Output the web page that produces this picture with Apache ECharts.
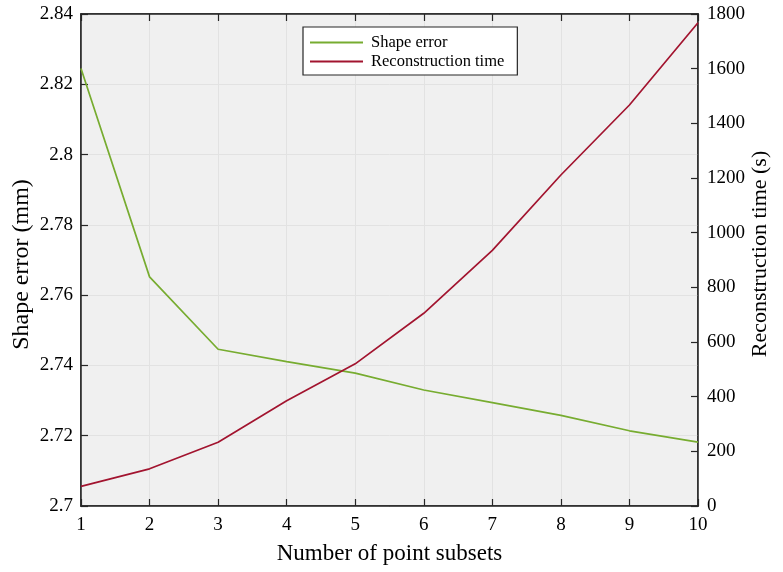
<!DOCTYPE html>
<html>
<head>
<meta charset="utf-8">
<script src="https://cdn.jsdelivr.net/npm/echarts@6/dist/echarts.min.js"></script>
<style>
html,body{margin:0;padding:0;background:#fff;}
#chart{width:783px;height:572px;}
</style>
</head>
<body>
<div id="chart"></div>
<script>
const subsets = [1, 2, 3, 4, 5, 6, 7, 8, 9, 10];
const shapeError = [2.8245, 2.7652, 2.7446, 2.7411, 2.7378, 2.7330, 2.7294, 2.7258, 2.7214, 2.7182];
const reconTime = [72, 136, 233, 385, 520, 705, 935, 1211, 1467, 1768];
const seriesNames = ['Shape error', 'Reconstruction time'];
const xTitle = 'Number of point subsets';
const yLeftTitle = 'Shape error (mm)';
const yRightTitle = 'Reconstruction time (s)';

const FONT = '"Liberation Serif", "Times New Roman", serif';
const AXIS_COLOR = '#262626';

const chart = echarts.init(document.getElementById('chart'));
const pairs = (ys) => subsets.map((x, i) => [x, ys[i]]);

chart.setOption({
  animation: false,
  backgroundColor: '#ffffff',
  textStyle: { fontFamily: FONT },
  grid: {
    left: 81, right: 85, top: 14, bottom: 66,
    containLabel: false, outerBoundsMode: 'none',
    show: true, backgroundColor: '#f0f0f0', borderColor: AXIS_COLOR, borderWidth: 1.5
  },
  legend: {
    left: 303, top: 27,
    orient: 'vertical',
    data: seriesNames,
    icon: 'rect',
    backgroundColor: '#ffffff',
    borderColor: AXIS_COLOR, borderWidth: 1.2, borderRadius: 0,
    padding: [6, 13, 4, 7],
    itemWidth: 53, itemHeight: 1.8, itemGap: 0,
    textStyle: { fontFamily: FONT, fontSize: 16.5, lineHeight: 19, color: '#000', padding: [0, 0, 0, 3] }
  },
  xAxis: [{
    type: 'value', min: 1, max: 10, interval: 1,
    name: xTitle, nameLocation: 'middle', nameGap: 36, nameMoveOverlap: false,
    nameTextStyle: { fontFamily: FONT, fontSize: 23, color: '#000' },
    axisLine: { show: true, lineStyle: { color: AXIS_COLOR, width: 1.5 } },
    axisTick: { show: true, inside: true, length: 7, lineStyle: { color: AXIS_COLOR, width: 1.2 } },
    axisLabel: { fontFamily: FONT, fontSize: 19, color: '#000', margin: 10 },
    splitLine: { show: true, lineStyle: { color: '#e2e2e2', width: 1 } }
  }, {
    type: 'value', min: 1, max: 10, interval: 1, position: 'top',
    axisLine: { show: true, lineStyle: { color: AXIS_COLOR, width: 1.5 } },
    axisTick: { show: true, inside: true, length: 7, lineStyle: { color: AXIS_COLOR, width: 1.2 } },
    axisLabel: { show: false },
    splitLine: { show: false }
  }],
  yAxis: [{
    type: 'value', min: 2.7, max: 2.84, interval: 0.02, position: 'left',
    name: yLeftTitle, nameLocation: 'middle', nameGap: 47, nameMoveOverlap: false,
    nameTextStyle: { fontFamily: FONT, fontSize: 24, color: '#000', padding: [0, 9, 0, 0] },
    axisLine: { show: true, lineStyle: { color: AXIS_COLOR, width: 1.5 } },
    axisTick: { show: true, inside: true, length: 7, lineStyle: { color: AXIS_COLOR, width: 1.2 } },
    axisLabel: { fontFamily: FONT, fontSize: 19, color: '#000', margin: 8,
      formatter: (v) => String(parseFloat(v.toFixed(2))) },
    splitLine: { show: true, lineStyle: { color: '#e2e2e2', width: 1 } }
  }, {
    type: 'value', min: 0, max: 1800, interval: 200, position: 'right',
    name: yRightTitle, nameLocation: 'middle', nameGap: 51, nameRotate: 90, nameMoveOverlap: false,
    nameTextStyle: { fontFamily: FONT, fontSize: 22, color: '#000', padding: [0, 0, 0, 12] },
    axisLine: { show: true, lineStyle: { color: AXIS_COLOR, width: 1.5 } },
    axisTick: { show: true, inside: true, length: 7, lineStyle: { color: AXIS_COLOR, width: 1.2 } },
    axisLabel: { fontFamily: FONT, fontSize: 19, color: '#000', margin: 9,
      formatter: (v) => String(v) },
    splitLine: { show: false }
  }],
  series: [{
    name: seriesNames[0], type: 'line', xAxisIndex: 0, yAxisIndex: 0,
    data: pairs(shapeError), symbol: 'none',
    lineStyle: { color: '#77ac30', width: 1.7 }, itemStyle: { color: '#77ac30' }
  }, {
    name: seriesNames[1], type: 'line', xAxisIndex: 0, yAxisIndex: 1,
    data: pairs(reconTime), symbol: 'none',
    lineStyle: { color: '#a2142f', width: 1.7 }, itemStyle: { color: '#a2142f' }
  }]
});
</script>
</body>
</html>
